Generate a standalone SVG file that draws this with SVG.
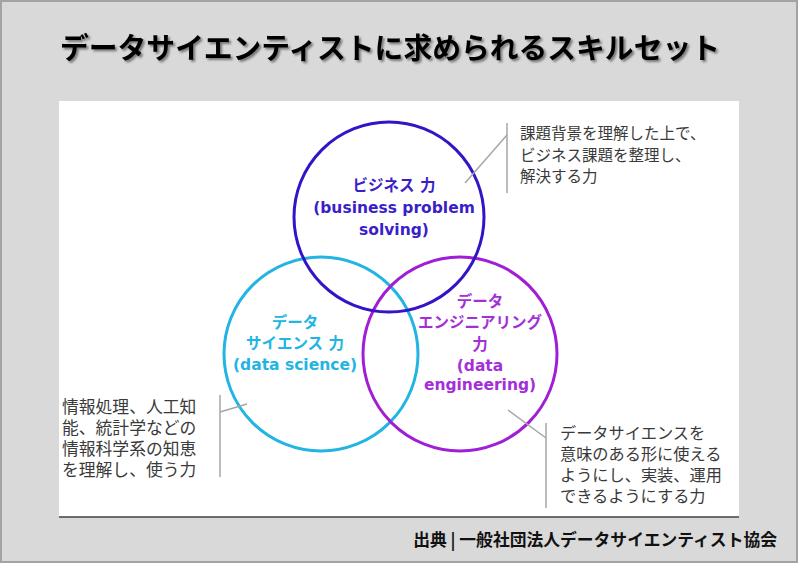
<svg xmlns="http://www.w3.org/2000/svg" width="798" height="564" viewBox="0 0 798 564">
<style>
.title{font-family:"Noto Sans CJK JP","Noto Sans",sans-serif;font-weight:700;font-size:29px;fill:#000}
.lbl{font-family:"DejaVu Sans","Noto Sans CJK JP",sans-serif;font-weight:700;font-size:15.5px;text-anchor:middle}
.desc{font-family:"Noto Sans CJK JP","Noto Sans",sans-serif;font-weight:400;fill:#3a3a3a}
.foot{font-family:"Noto Sans CJK JP","Noto Sans",sans-serif;font-weight:700;font-size:16.8px;fill:#111;text-anchor:end}
.circ{fill:none;stroke-width:3}
.conn line{stroke:#a6a6a6;stroke-width:1.5}
</style>
<defs>
<filter id="shadow" x="-5%" y="-20%" width="110%" height="150%">
<feDropShadow dx="2" dy="2" stdDeviation="1" flood-color="#000" flood-opacity="0.45"/>
</filter>
</defs>
<rect x="1" y="1" width="796" height="561" fill="#d9d9d9" stroke="#a3a3a3" stroke-width="2"/>
<rect x="59" y="101" width="680" height="416" fill="#fff"/>
<line x1="59" y1="517" x2="739" y2="517" stroke="#404040" stroke-width="1.5"/>
<text class="title" x="60" y="59" textLength="660" lengthAdjust="spacingAndGlyphs" filter="url(#shadow)">データサイエンティストに求められるスキルセット</text>

<g id="circle-science">
<circle class="circ" cx="321" cy="354" r="97" stroke="#22b5e3"/>
<text class="lbl" fill="#22b5e3"><tspan x="295" y="328">データ</tspan><tspan x="295" y="349">サイエンス 力</tspan><tspan x="295" y="370">(data science)</tspan></text>
</g>
<g id="circle-engineering">
<circle class="circ" cx="460" cy="354" r="97" stroke="#a01ed6"/>
<text class="lbl" fill="#a42fd8"><tspan x="480" y="307">データ</tspan><tspan x="480" y="328">エンジニアリング</tspan><tspan x="480" y="350">力</tspan><tspan x="480" y="371">(data</tspan><tspan x="480" y="390">engineering)</tspan></text>
</g>
<g id="circle-business">
<circle class="circ" cx="389" cy="217" r="95" stroke="#3513c6"/>
<text class="lbl" fill="#3a1fc8"><tspan x="394" y="191">ビジネス 力</tspan><tspan x="394" y="213">(business problem</tspan><tspan x="394" y="235">solving)</tspan></text>
</g>

<g id="note-business">
<text class="desc" font-size="15.5"><tspan x="520" y="139">課題背景を理解した上で、</tspan><tspan x="520" y="161">ビジネス課題を整理し、</tspan><tspan x="520" y="182">解決する力</tspan></text>
</g>
<g id="note-science">
<text class="desc" font-size="16.8"><tspan x="62" y="413">情報処理、人工知</tspan><tspan x="62" y="434">能、統計学などの</tspan><tspan x="62" y="455">情報科学系の知恵</tspan><tspan x="62" y="476">を理解し、使う力</tspan></text>
</g>
<g id="note-engineering">
<text class="desc" font-size="16.2"><tspan x="560" y="439">データサイエンスを</tspan><tspan x="560" y="460">意味のある形に使える</tspan><tspan x="560" y="481">ようにし、実装、運用</tspan><tspan x="560" y="502">できるようにする力</tspan></text>
</g>

<g id="connectors" class="conn">
<line x1="507" y1="123" x2="507" y2="193"/>
<line x1="507" y1="135" x2="465" y2="183"/>
<line x1="220" y1="395" x2="220" y2="477"/>
<line x1="220" y1="412" x2="247" y2="404"/>
<line x1="546" y1="423" x2="546" y2="508"/>
<line x1="508" y1="410" x2="546" y2="438"/>
</g>

<text class="foot" x="777" y="546">出典 | 一般社団法人データサイエンティスト協会</text>
</svg>
